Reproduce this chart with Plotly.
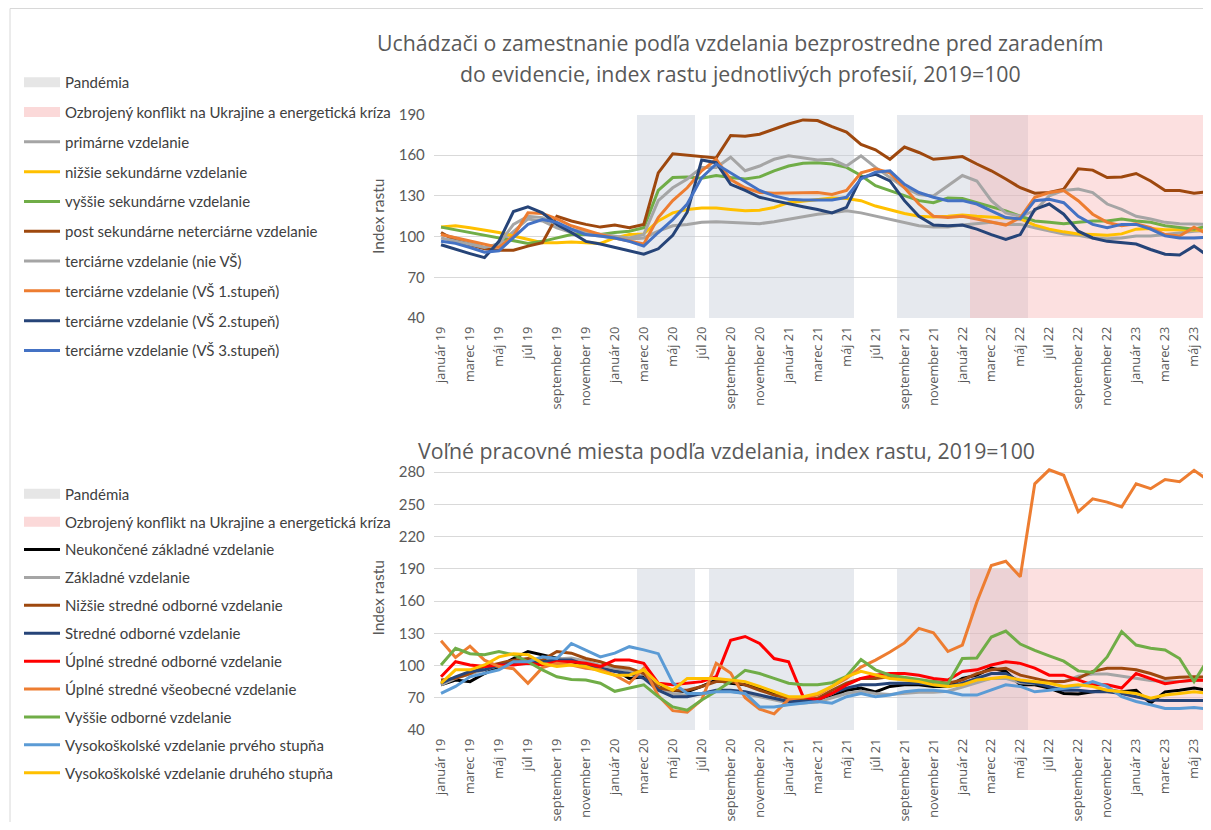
import plotly.graph_objects as go

# ── Dáta ──────────────────────────────────────────────────────────────────

MESIACE = [
    "január 19", "február 19", "marec 19", "apríl 19", "máj 19", "jún 19",
    "júl 19", "august 19", "september 19", "október 19", "november 19", "december 19",
    "január 20", "február 20", "marec 20", "apríl 20", "máj 20", "jún 20",
    "júl 20", "august 20", "september 20", "október 20", "november 20", "december 20",
    "január 21", "február 21", "marec 21", "apríl 21", "máj 21", "jún 21",
    "júl 21", "august 21", "september 21", "október 21", "november 21", "december 21",
    "január 22", "február 22", "marec 22", "apríl 22", "máj 22", "jún 22",
    "júl 22", "august 22", "september 22", "október 22", "november 22", "december 22",
    "január 23", "február 23", "marec 23", "apríl 23", "máj 23", "jún 23",
]
POPISKY_OSI = MESIACE[::2]

PANDEMIA = [
    "marec 20", "apríl 20", "máj 20", "jún 20",
    "august 20", "september 20", "október 20", "november 20", "december 20",
    "január 21", "február 21", "marec 21", "apríl 21", "máj 21",
    "september 21", "október 21", "november 21", "december 21",
    "január 22", "február 22", "marec 22", "apríl 22", "máj 22",
]
KONFLIKT = MESIACE[MESIACE.index("február 22"):]
VYSKA_PASMA = 190

# Uchádzači o zamestnanie (horný graf)
primarne = [101.5, 99, 95.5, 92, 94.5, 104, 113, 111.5, 106.5, 103, 101.5, 100.5, 99, 98, 99,
            104, 108, 109, 110.5, 111, 110.5, 109.5, 109.5, 111, 113, 115, 116.5, 117.5, 119,
            117.5, 115, 113, 110.5, 108, 107, 107, 108.5, 109.5, 110.5, 109, 109, 106.5, 104,
            102, 101, 99, 98.5, 99, 100.5, 100.5, 101.5, 103, 104, 104.5]
nizsie_sek = [107, 108, 106.5, 105, 103, 100.5, 98, 95.5, 95.5, 96, 95.5, 95, 99, 101.5, 102,
              111.5, 117.5, 120, 121, 121, 120, 119, 119.5, 121.5, 125, 126, 127.5, 128.5, 128,
              126.5, 122.5, 119.5, 117, 115, 114.5, 115, 116, 115, 114.5, 114, 113, 108.5, 105.5,
              103.5, 102, 101.5, 101, 102, 105.5, 106, 105, 105, 105, 104.5]
vyssie_sek = [107, 105, 103, 101, 99, 96.5, 95, 96.5, 99, 101.5, 101.5, 101.5, 103, 104, 106.5,
              134, 143.5, 144, 143, 145, 143.5, 142.5, 144, 148.5, 152, 154, 154.5, 153.5, 151,
              145, 137.5, 134, 130, 126.5, 125, 128.5, 128, 125, 122.5, 119, 115, 111.5, 110.5,
              109.5, 110.5, 111.5, 111.5, 113, 111.5, 110.5, 108, 106.5, 105.5, 108]
post_sek = [103, 97, 94, 91, 90, 90, 93, 95.5, 115, 111.5, 109, 107, 108.5, 106.5, 109,
            147, 161, 160, 158.5, 158, 174.5, 174, 175.5, 179.5, 183, 186, 185.5, 181, 177,
            168, 164, 157, 166, 162, 157, 158, 159, 153.5, 148.5, 142.5, 136, 132, 132.5,
            135, 150, 149, 143.5, 144, 146.5, 141, 134, 134, 132, 133]
terc_nie_vs = [99, 96.5, 94, 92, 94.5, 109, 115, 114, 109, 105.5, 103, 101.5, 100.5, 99, 101.5,
               126.5, 136, 142.5, 151, 151, 158.5, 148.5, 152, 157, 159.5, 158, 156.5, 157, 152,
               159.5, 151, 143.5, 136, 131, 130, 137.5, 145, 141, 126.5, 117.5, 115, 119, 130,
               134, 135, 132.5, 124, 120, 115, 113, 110.5, 109.5, 109.5, 109]
terc_vs1 = [101.5, 99, 96.5, 94, 92, 100.5, 117.5, 117, 113, 108, 104.5, 101.5, 99, 96.5, 94.5,
            114, 126.5, 136, 148.5, 157, 142, 136, 132.5, 132, 132, 132, 132.5, 131, 134,
            147, 150, 147, 136, 124, 115, 114, 115, 113, 110.5, 108.5, 114, 129, 132.5,
            134, 126.5, 116.5, 110.5, 108, 109.5, 106.5, 101.5, 100.5, 107, 101.5]
terc_vs2 = [94, 90.5, 87.5, 84.5, 96.5, 118.5, 122, 117.5, 109, 103, 96.5, 94.5, 92, 89.5, 87,
            91, 101, 118, 156.5, 154.5, 138.5, 134, 129, 126.5, 124, 122, 120, 117.5, 121.5,
            143.5, 146, 141, 126.5, 115, 108.5, 108, 108.5, 105.5, 101.5, 98, 101.5, 120, 124,
            116.5, 104, 99, 96.5, 95.5, 94.5, 90.5, 87, 86.5, 93, 85.5]
terc_vs3 = [96.5, 95, 92, 88.5, 89.5, 99, 109, 112.5, 110.5, 105.5, 101.5, 100.5, 99, 96.5, 93,
            103, 112.5, 124, 143.5, 153.5, 147, 140, 134, 130, 127.5, 127, 127, 127, 129,
            142.5, 147.5, 148.5, 138.5, 132.5, 129, 126.5, 126.5, 124, 119, 114, 113, 126.5, 127.5,
            125, 115, 109, 106.5, 109, 109, 105.5, 100.5, 99, 99, 99.5]

# Voľné pracovné miesta (dolný graf)
neukoncene_zakl = [82, 86.5, 85, 92.5, 99, 106.5, 113, 110, 106.5, 103.5, 100.5, 97.5, 96, 88,
                   89.5, 80.5, 77, 75.5, 80.5, 86.5, 83.5, 82, 79, 74, 69.5, 68, 66.5, 71, 77,
                   79, 75.5, 80.5, 82, 82, 80.5, 80.5, 88, 91, 97.5, 94.5, 82, 82, 79, 74, 73.5,
                   75.5, 77, 75.5, 77, 65, 75.5, 77, 79, 77]
zakladne = [82, 88, 92, 96, 100, 103, 104, 104, 106, 107, 104, 100, 97, 95, 92, 80, 74, 72, 73,
            76, 76, 74, 71, 68, 65, 65, 66, 70, 74, 76, 74, 73, 74, 75, 75, 76, 80, 84, 88, 88,
            84, 83, 84, 85, 90, 92, 92, 90, 88, 86, 85, 85, 86, 86]
nizsie_so = [86.5, 88, 92.5, 99, 102, 105, 106.5, 105, 113, 111.5, 106.5, 103.5, 99, 97.5, 92.5,
             79, 77, 77, 80.5, 85, 85, 82, 77, 72.5, 69.5, 68, 69.5, 77, 83.5, 88, 88, 89.5, 88,
             85, 85, 83.5, 86.5, 92.5, 96, 97.5, 91, 88, 85, 85, 88, 94.5, 97.5, 97.5, 96, 92.5,
             88, 89, 89.5, 89]
stredne_odb = [83.5, 89.5, 94.5, 96, 100.5, 102, 103.5, 103.5, 105, 105, 100.5, 97.5, 94.5, 92.5,
               88, 77, 71, 71, 74, 77, 77, 75.5, 72.5, 69.5, 66.5, 66.5, 68, 74, 79, 82, 82, 83.5,
               83.5, 83.5, 82, 80.5, 83.5, 88, 92.5, 92.5, 85, 83.5, 80.5, 77, 77, 75.5, 75.5, 74,
               71, 68, 67.5, 67.5, 67.5, 67.5]
uplne_odb = [89.5, 103.5, 100.5, 99, 100.5, 100.5, 102, 100.5, 103.5, 103.5, 102, 99, 105, 105,
             102, 83.5, 82, 83.5, 85, 89.5, 123.5, 127, 120.5, 106.5, 103.5, 71, 68, 74, 82, 88,
             91, 92.5, 92.5, 91, 88, 86.5, 94.5, 96, 100.5, 103.5, 102, 97.5, 91, 91, 86.5, 82,
             82, 79, 92.5, 88, 83, 85, 86.5, 86]
uplne_vseob = [123, 107.5, 118, 105, 99, 97, 83.5, 98, 102, 100.5, 97.5, 96, 91, 83.5, 97.5, 72,
               58, 56.5, 68, 102, 93, 70, 59.5, 55, 68.5, 70.5, 72.5, 80.5, 88, 98.5, 105, 112.5,
               121, 134.5, 130.5, 113, 119, 159, 193, 197, 182.5, 269, 282, 277, 243, 255, 252,
               247.5, 269, 264.5, 273, 271, 281.5, 272]
vyssie_odb = [100.5, 116, 111, 110, 113, 110, 103.5, 96, 89.5, 87, 86.5, 83.5, 76, 79, 82, 71,
              61.5, 58.5, 68, 76, 85, 95.5, 92.5, 88, 83.5, 82, 82, 84, 90, 105.5, 96, 91, 89,
              86.5, 85, 83, 106.5, 107, 126.5, 132, 120, 114, 109, 104, 95, 93.5, 108, 131.5,
              119, 116, 114.5, 106.5, 85, 106.5]
vs_prvy = [74, 80.5, 89.5, 92.5, 96, 103.5, 103.5, 108, 106.5, 120.5, 114.5, 108, 111.5, 117.5,
           114.5, 111, 84, 74, 74, 75.5, 75.5, 74, 61.5, 61.5, 63.5, 65, 66.5, 65, 71, 74, 71,
           72.5, 75.5, 77, 77, 75.5, 72.5, 72.5, 77, 82, 80.5, 75.5, 77, 79, 80.5, 85, 80.5, 71,
           66.5, 63.5, 60, 60, 61, 59.5]
vs_druhy = [83.5, 96, 96, 100.5, 108, 111, 110, 102, 99, 100.5, 99, 94.5, 91, 91, 96, 83.5, 77,
            88, 88, 88, 86.5, 85, 80.5, 75.5, 71, 71, 74, 80.5, 89.5, 94.5, 91, 88, 86.5, 85, 82,
            80.5, 82, 86.5, 88, 89.5, 86.5, 85, 83.5, 80.5, 82, 80.5, 77, 75.5, 74, 69.5, 72.5,
            74, 75.5, 74]

HORNE_SERIE = [
    ("primárne vzdelanie", primarne, "#A5A5A5"),
    ("nižšie sekundárne vzdelanie", nizsie_sek, "#FFC000"),
    ("vyššie sekundárne vzdelanie", vyssie_sek, "#70AD47"),
    ("post sekundárne neterciárne vzdelanie", post_sek, "#9E480E"),
    ("terciárne vzdelanie (nie VŠ)", terc_nie_vs, "#A5A5A5"),
    ("terciárne vzdelanie (VŠ 1.stupeň)", terc_vs1, "#ED7D31"),
    ("terciárne vzdelanie (VŠ 2.stupeň)", terc_vs2, "#264478"),
    ("terciárne vzdelanie (VŠ 3.stupeň)", terc_vs3, "#4472C4"),
]
DOLNE_SERIE = [
    ("Neukončené základné vzdelanie", neukoncene_zakl, "#000000"),
    ("Základné vzdelanie", zakladne, "#A5A5A5"),
    ("Nižšie stredné odborné vzdelanie", nizsie_so, "#9E480E"),
    ("Stredné odborné vzdelanie", stredne_odb, "#264478"),
    ("Úplné stredné odborné vzdelanie", uplne_odb, "#FF0000"),
    ("Úplné stredné všeobecné vzdelanie", uplne_vseob, "#ED7D31"),
    ("Vyššie odborné vzdelanie", vyssie_odb, "#70AD47"),
    ("Vysokoškolské vzdelanie prvého stupňa", vs_prvy, "#5B9BD5"),
    ("Vysokoškolské vzdelanie druhého stupňa", vs_druhy, "#FFC000"),
]

# ── Štýl ──────────────────────────────────────────────────────────────────

# the page body adds an 8px margin, so the figure is smaller than the window
# and every screen position below is given in page pixels, shifted by OFF
OFF = 8
W, H = 1211 - OFF, 830 - 2 * OFF
FONT = "Lato"
TICK_FONT = "Open Sans"
TEXT_GRAY = "#595959"
PANDEMIA_FARBA = "rgba(196,202,214,0.42)"
KONFLIKT_FARBA = "rgba(246,170,170,0.36)"
X_DOMAIN = [(433.8 - OFF) / W, 1.0]
X_RANGE = [-0.5, 53.17]


def fx(px):
    return (px - OFF) / W


def fy(py):
    return 1 - (py - OFF) / H


fig = go.Figure()


def add_panel(series, xa, ya, legend):
    # shaded periods as full-width bars
    fig.add_trace(go.Bar(
        x=PANDEMIA, y=[VYSKA_PASMA] * len(PANDEMIA), width=1,
        marker=dict(color=PANDEMIA_FARBA, line=dict(width=0)),
        xaxis=xa, yaxis=ya, showlegend=False, hoverinfo="skip",
    ))
    fig.add_trace(go.Bar(
        x=KONFLIKT, y=[VYSKA_PASMA] * len(KONFLIKT), width=1,
        marker=dict(color=KONFLIKT_FARBA, line=dict(width=0)),
        xaxis=xa, yaxis=ya, showlegend=False, hoverinfo="skip",
    ))
    # legend swatches for the shaded periods
    for name, color in (("Pandémia", "rgba(205,205,205,0.5)"),
                        ("Ozbrojený konflikt na Ukrajine a energetická kríza",
                         "rgba(246,170,170,0.45)")):
        fig.add_trace(go.Scatter(
            x=[None], y=[None], mode="lines", name=name,
            line=dict(color=color, width=12),
            xaxis=xa, yaxis=ya, legend=legend, legendgroup=legend + name,
        ))
    for name, values, color in series:
        fig.add_trace(go.Scatter(
            x=MESIACE, y=values, mode="lines", name=name,
            line=dict(color=color, width=3),
            xaxis=xa, yaxis=ya, legend=legend, legendgroup=legend + name,
        ))


add_panel(HORNE_SERIE, "x", "y", "legend")
add_panel(DOLNE_SERIE, "x2", "y2", "legend2")

xaxis_common = dict(
    domain=X_DOMAIN, range=X_RANGE, type="category", categoryorder="array",
    categoryarray=MESIACE, tickmode="array", tickvals=POPISKY_OSI,
    tickangle=-90, showgrid=False, zeroline=False, showline=False,
    ticks="", ticklabelstandoff=5, automargin=False,
    tickfont=dict(family=TICK_FONT, size=12.8, color=TEXT_GRAY),
)
yaxis_common = dict(
    tick0=40, dtick=30, showgrid=True, gridcolor="#D9D9D9", gridwidth=1, zeroline=False,
    showline=False, ticks="", ticklabelstandoff=8, automargin=False,
    tickfont=dict(family=FONT, size=15, color=TEXT_GRAY),
    title=dict(text="Index rastu", font=dict(family=FONT, size=15.5, color=TEXT_GRAY),
               standoff=10),
)

legend_common = dict(
    xanchor="left", yanchor="top", bgcolor="rgba(0,0,0,0)",
    font=dict(family=FONT, size=15, color="#404040"),
    traceorder="grouped", itemwidth=36,
)

PX_PER_UNIT_BOTTOM = 258 / 240
BOTTOM_TOP = 286

title_font = dict(family=TICK_FONT, size=21.3, color=TEXT_GRAY)

fig.update_layout(
    width=W, height=H,
    margin=dict(l=0, r=0, t=0, b=0, autoexpand=False),
    paper_bgcolor="white", plot_bgcolor="white",
    barmode="overlay", bargap=0,
    xaxis=dict(**xaxis_common, anchor="y"),
    yaxis=dict(**yaxis_common, domain=[fy(318), fy(114.5)], range=[40, 190], anchor="x"),
    xaxis2=dict(**xaxis_common, anchor="y2"),
    yaxis2=dict(**yaxis_common,
                domain=[fy(730), fy(472 - (BOTTOM_TOP - 280) * PX_PER_UNIT_BOTTOM)],
                range=[40, BOTTOM_TOP], anchor="x2"),
    legend=dict(**legend_common, x=fx(19), y=fy(66), tracegroupgap=7.3),
    legend2=dict(**legend_common, x=fx(19), y=fy(477.5), tracegroupgap=5.4),
    annotations=[
        dict(text="Uchádzači o zamestnanie podľa vzdelania bezprostredne pred zaradením",
             x=fx(740), y=fy(43), xref="paper", yref="paper", showarrow=False,
             xanchor="center", yanchor="middle", font=title_font),
        dict(text="do evidencie, index rastu jednotlivých profesií, 2019=100",
             x=fx(740), y=fy(73), xref="paper", yref="paper", showarrow=False,
             xanchor="center", yanchor="middle", font=title_font),
        dict(text="Voľné pracovné miesta podľa vzdelania, index rastu, 2019=100",
             x=fx(726), y=fy(450), xref="paper", yref="paper", showarrow=False,
             xanchor="center", yanchor="middle", font=title_font),
    ],
    shapes=[
        # slide frame edges around the chart
        dict(type="line", xref="paper", yref="paper", x0=fx(10), x1=1, y0=fy(8.5),
             y1=fy(8.5), line=dict(color="#D8D8D8", width=1)),
        dict(type="line", xref="paper", yref="paper", x0=fx(10), x1=fx(10), y0=0,
             y1=fy(8.5), line=dict(color="#D8D8D8", width=1)),
    ],
)

fig.write_html("out.html")
